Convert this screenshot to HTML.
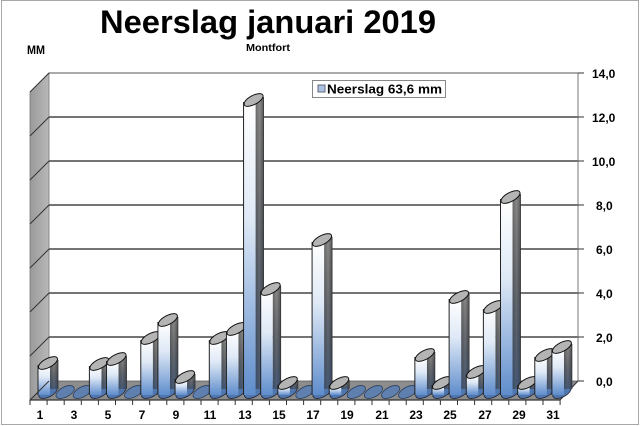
<!DOCTYPE html>
<html><head><meta charset="utf-8"><style>
html,body{margin:0;padding:0;background:#fff;}
svg{display:block;font-family:"Liberation Sans",Arial,sans-serif;}
</style></head><body>
<svg id="s" width="640" height="426" viewBox="0 0 640 426" xmlns="http://www.w3.org/2000/svg">
<defs>
<linearGradient id="side" x1="0" y1="0" x2="1" y2="0"><stop offset="0" stop-color="#9a9a9a"/><stop offset="1" stop-color="#b8b8b8"/></linearGradient>
<linearGradient id="face" x1="0" y1="0" x2="0" y2="1"><stop offset="0" stop-color="#ffffff"/><stop offset="0.4" stop-color="#dfe9f6"/><stop offset="1" stop-color="#5f8dcc"/></linearGradient>
<linearGradient id="dark" x1="0" y1="0" x2="1" y2="0"><stop offset="0" stop-color="#6a6a6a"/><stop offset="0.5" stop-color="#8c8c8c"/><stop offset="1" stop-color="#5a5a5a"/></linearGradient>
<linearGradient id="darkV" x1="0" y1="0" x2="0" y2="1"><stop offset="0" stop-color="#000" stop-opacity="0"/><stop offset="1" stop-color="#1c3a66" stop-opacity="0.6"/></linearGradient>
</defs>
<rect x="1.5" y="0.5" width="637" height="424" fill="#fff" stroke="#a8a8a8"/>
<text x="268" y="33" font-size="32" font-weight="bold" text-anchor="middle" textLength="336" lengthAdjust="spacingAndGlyphs">Neerslag januari 2019</text>
<text x="27" y="54" font-size="12" font-weight="bold" textLength="18" lengthAdjust="spacingAndGlyphs">MM</text>
<text x="246" y="51" font-size="10" font-weight="bold" textLength="44" lengthAdjust="spacingAndGlyphs">Montfort</text>
<polygon points="30,92 49,73 49,381 30,400" fill="url(#side)" stroke="#777" stroke-width="0.8"/>
<polygon points="30,400 49,381 578,381 560,400" fill="#8d8d8d" stroke="#555" stroke-width="0.8"/>
<g id="grid" stroke="#222" stroke-width="1.2"></g>
<line x1="49" y1="73" x2="578" y2="73" stroke="#555" stroke-width="1"/>
<line x1="578" y1="73" x2="578" y2="381" stroke="#777" stroke-width="1"/>
<line x1="578" y1="381" x2="560" y2="400" stroke="#333" stroke-width="1"/>
<line x1="30" y1="400" x2="560" y2="400" stroke="#333" stroke-width="1.2"/>
<g id="bars"></g>
<g id="ticks" stroke="#333" stroke-width="1"></g>
<g font-size="12" font-weight="bold" fill="#000">
<text x="592" y="78">14,0</text><text x="592" y="122">12,0</text><text x="592" y="166">10,0</text>
<text x="596" y="210">8,0</text><text x="596" y="254">6,0</text><text x="596" y="298">4,0</text>
<text x="596" y="342">2,0</text><text x="596" y="386">0,0</text>
</g>
<g font-size="12" font-weight="bold" text-anchor="middle">
<text x="40" y="419">1</text><text x="74" y="419">3</text><text x="108" y="419">5</text><text x="142" y="419">7</text>
<text x="176" y="419">9</text><text x="210" y="419">11</text><text x="245" y="419">13</text><text x="279" y="419">15</text>
<text x="313" y="419">17</text><text x="347" y="419">19</text><text x="382" y="419">21</text><text x="416" y="419">23</text>
<text x="450" y="419">25</text><text x="485" y="419">27</text><text x="519" y="419">29</text><text x="553" y="419">31</text>
</g>
<rect x="312.5" y="80.5" width="133" height="17" fill="#fff" stroke="#888"/>
<rect x="318" y="85" width="7" height="7" fill="#a9c1e3" stroke="#667"/>
<text x="327" y="93.5" font-size="13" font-weight="bold" textLength="115" lengthAdjust="spacingAndGlyphs">Neerslag 63,6 mm</text>
</svg>
<script>
var NS="http://www.w3.org/2000/svg";
function el(p,t,a){var e=document.createElementNS(NS,t);for(var k in a)e.setAttribute(k,a[k]);p.appendChild(e);return e;}
var g=document.getElementById('grid'),tk=document.getElementById('ticks');
for(var i=0;i<8;i++){var y=381-44*i;
 if(i>0&&i<7)el(g,'line',{x1:49,y1:y,x2:578,y2:y});
 el(tk,'line',{x1:30,y1:y+19,x2:49,y2:y});
 el(tk,'line',{x1:578,y1:y,x2:584,y2:y});}
for(var d=0;d<=31;d++){var x=30+d*17.1;el(tk,'line',{x1:x,y1:400,x2:x,y2:405});}
var tops={1:363,4:364,5:359,7:338,8:320,9:377,11:338,12:329,13:100,14:289,15:383,17:240,18:383,23:355,24:383,25:297,26:372,27:307,28:197,29:383,30:355,31:347};
var b=document.getElementById('bars');
for(var d=1;d<=31;d++){var x=38+(d-1)*17.13,base=392,cx=x+10;
 var t=tops[d];
 if(!t){el(b,'ellipse',{cx:cx,cy:base,rx:10,ry:5,transform:'rotate(-28 '+cx+' '+base+')',fill:'#5f7fae',stroke:'#2b3f5c','stroke-width':0.8});continue;}
 el(b,'ellipse',{cx:cx,cy:base,rx:10,ry:5,transform:'rotate(-28 '+cx+' '+base+')',fill:'#4f76ad',stroke:'#223','stroke-width':0.8});
 var h=base-t;
 el(b,'rect',{x:x+12,y:t-3,width:8,height:h,fill:'url(#dark)'});
 el(b,'rect',{x:x+12,y:t-3,width:8,height:h,fill:'url(#darkV)'});
 el(b,'rect',{x:x,y:t+2,width:12,height:h+1,fill:'url(#face)'});
 el(b,'path',{d:'M'+x+' '+(t+2)+' V'+(base+3),stroke:'#222','stroke-width':1,fill:'none'});
 el(b,'path',{d:'M'+(x+20)+' '+(t-3)+' V'+(base-3),stroke:'#333','stroke-width':0.8,fill:'none'});
 el(b,'ellipse',{cx:cx,cy:t,rx:10.5,ry:4.5,transform:'rotate(-28 '+cx+' '+t+')',fill:'#b4b4b4',stroke:'#111','stroke-width':1});
}
</script>
</body></html>
